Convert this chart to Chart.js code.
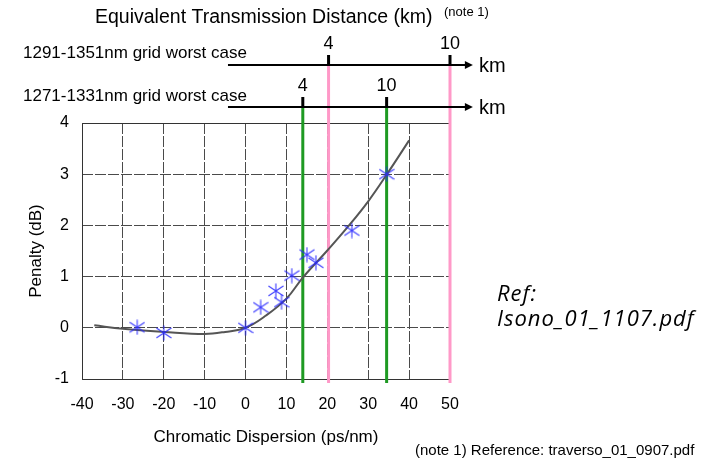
<!DOCTYPE html>
<html>
<head>
<meta charset="utf-8">
<title>Penalty vs Chromatic Dispersion</title>
<script src="https://cdn.jsdelivr.net/npm/chart.js@4.4.1/dist/chart.umd.min.js"></script>
<style>
  html, body { margin: 0; padding: 0; background: #fff; }
  #wrap { position: relative; width: 704px; height: 462px; }
</style>
</head>
<body>
<div id="wrap"><canvas id="chart" width="704" height="462"></canvas></div>
<script>
// Measured penalty points (ps/nm, dB)
const measuredCD = [-26.5, -20, 0, 3.7, 7.4, 8.8, 11.3, 15, 17.2, 26, 34.5];
const measuredPenalty = [0.01, -0.1, 0, 0.4, 0.72, 0.5, 1.02, 1.43, 1.27, 1.9, 3.0];

// Fitted curve
const fitCD = [-37, -30, -20, -10, -5, 0, 5, 10, 14, 20, 25, 30, 35, 40];
const fitPenalty = [0.05, -0.02, -0.08, -0.12, -0.08, 0, 0.24, 0.57, 0.98, 1.51, 1.97, 2.47, 3.05, 3.66];

// Axis ranges / ticks
const xMin = -40, xMax = 50, xStep = 10;
const yMin = -1, yMax = 4, yStep = 1;

// Equivalent distance rows (km ticks and the dispersion they map to)
const rowLabels = ['1291-1351nm grid worst case', '1271-1331nm grid worst case'];
const kmTicks = ['4', '10'];
const kmCD = [[20.3, 50], [14, 34.5]];
const rowColors = ['#ff99c8', '#1e9a23'];
const arrowCD = [-4.3, 55.6];

const FONT = "'Liberation Sans', Arial, sans-serif";

const points = measuredCD.map((x, i) => ({ x: x, y: measuredPenalty[i] }));
const curve = fitCD.map((x, i) => ({ x: x, y: fitPenalty[i] }));

// asterisk marker
const makeStar = () => {
  const c = document.createElement('canvas');
  c.width = 16; c.height = 16;
  const g = c.getContext('2d');
  g.strokeStyle = 'rgba(40,40,255,0.9)';
  g.lineWidth = 1.1;
  g.beginPath();
  g.moveTo(8, 0.5); g.lineTo(8, 15.5);
  g.moveTo(0.5, 3); g.lineTo(15.5, 13);
  g.moveTo(0.5, 13); g.lineTo(15.5, 3);
  g.stroke();
  return c;
};
const star = makeStar();

const ROW_Y = [65, 107];
const ROW_TEXT_Y = [53, 96];

const lines = {
  id: 'lines',
  beforeDatasetsDraw(chart) {
    const ctx = chart.ctx;
    const xs = chart.scales.x;
    const area = chart.chartArea;
    ctx.save();
    // plot frame
    ctx.strokeStyle = '#333';
    ctx.lineWidth = 1;
    ctx.beginPath();
    ctx.moveTo(area.right, area.top + 0.5);
    ctx.lineTo(area.left + 0.5, area.top + 0.5);
    ctx.lineTo(area.left + 0.5, area.bottom + 0.5);
    ctx.lineTo(area.right, area.bottom + 0.5);
    ctx.stroke();
    // vertical distance markers
    kmCD.forEach((row, r) => {
      ctx.strokeStyle = rowColors[r];
      ctx.lineWidth = 3;
      row.forEach(cd => {
        const px = xs.getPixelForValue(cd);
        ctx.beginPath();
        ctx.moveTo(px, ROW_Y[r]);
        ctx.lineTo(px, area.bottom + 4);
        ctx.stroke();
      });
    });
    ctx.restore();
  },
  afterDraw(chart) {
    const ctx = chart.ctx;
    const xs = chart.scales.x;
    ctx.save();
    ctx.fillStyle = '#000';
    ctx.strokeStyle = '#000';
    ctx.textBaseline = 'middle';

    ctx.font = '19.5px ' + FONT;
    ctx.textAlign = 'left';
    ctx.fillText('Equivalent Transmission Distance (km)', 95, 18);
    ctx.font = '13px ' + FONT;
    ctx.fillText('(note 1)', 444, 12);

    rowLabels.forEach((label, r) => {
      const y = ROW_Y[r];
      ctx.font = '17px ' + FONT;
      ctx.textAlign = 'left';
      ctx.fillText(label, 23, ROW_TEXT_Y[r]);
      const x0 = xs.getPixelForValue(arrowCD[0]);
      const x1 = xs.getPixelForValue(arrowCD[1]);
      ctx.lineWidth = 2;
      ctx.beginPath();
      ctx.moveTo(x0, y);
      ctx.lineTo(x1 - 6, y);
      ctx.stroke();
      ctx.beginPath();
      ctx.moveTo(x1, y);
      ctx.lineTo(x1 - 8, y - 4);
      ctx.lineTo(x1 - 8, y + 4);
      ctx.closePath();
      ctx.fill();
      ctx.font = '20px ' + FONT;
      ctx.fillText('km', x1 + 6, y + 1);
      kmCD[r].forEach((cd, k) => {
        const px = xs.getPixelForValue(cd);
        ctx.lineWidth = 3;
        ctx.beginPath();
        ctx.moveTo(px, y - 10);
        ctx.lineTo(px, y);
        ctx.stroke();
        ctx.font = '18px ' + FONT;
        ctx.textAlign = 'center';
        ctx.fillText(kmTicks[k], px, y - 21);
        ctx.textAlign = 'left';
      });
    });

    ctx.font = 'italic 22px "Open Sans", sans-serif';
    ctx.letterSpacing = '1px';
    ctx.fillText('Ref:', 497, 295);
    ctx.fillText('Isono_01_1107.pdf', 497, 320);
    ctx.letterSpacing = '0px';

    ctx.font = '15px ' + FONT;
    ctx.fillText('(note 1) Reference: traverso_01_0907.pdf', 415, 451);
    ctx.restore();
  }
};

new Chart(document.getElementById('chart'), {
  type: 'scatter',
  data: {
    datasets: [
      {
        label: 'Fit',
        data: curve,
        showLine: true,
        borderColor: '#555',
        borderWidth: 2,
        pointRadius: 0,
        tension: 0.4,
        order: 2
      },
      {
        label: 'Measured',
        data: points,
        pointStyle: star,
        pointRadius: 8,
        showLine: false,
        order: 1
      }
    ]
  },
  options: {
    responsive: false,
    animation: false,
    layout: { padding: { left: 22, right: 254, top: 123, bottom: 12 } },
    plugins: { legend: { display: false }, tooltip: { enabled: false } },
    scales: {
      x: {
        type: 'linear',
        min: xMin, max: xMax,
        afterFit: (s) => { s.height = 71; },
        ticks: { stepSize: xStep, color: '#000', font: { family: FONT, size: 16 }, padding: 16 },
        grid: { color: '#4a4a4a', drawTicks: false },
        border: { display: false, dash: [11, 2] },
        title: { display: true, text: 'Chromatic Dispersion (ps/nm)', color: '#000', font: { family: FONT, size: 17 }, padding: { top: 4, bottom: 2 } }
      },
      y: {
        min: yMin, max: yMax,
        afterFit: (s) => { s.width = 60; },
        ticks: { stepSize: yStep, color: '#000', font: { family: FONT, size: 16 }, padding: 13 },
        grid: { color: '#4a4a4a', drawTicks: false },
        border: { display: false, dash: [11, 2] },
        title: { display: true, text: 'Penalty (dB)', color: '#000', font: { family: FONT, size: 17 } }
      }
    }
  },
  plugins: [lines]
});
</script>
</body>
</html>
